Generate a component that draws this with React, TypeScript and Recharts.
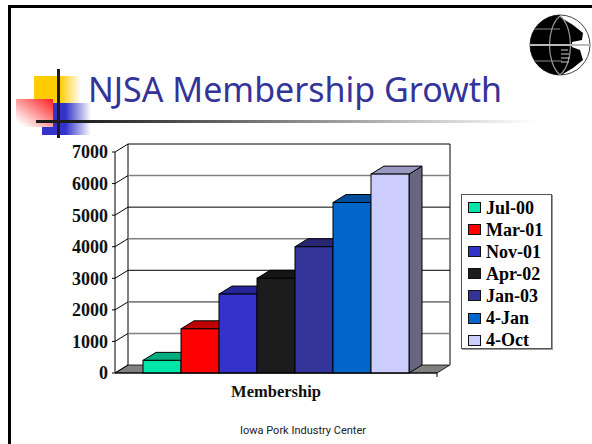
import { BarChart, Bar, XAxis, YAxis, CartesianGrid, Legend } from 'recharts'

const category = 'Membership'
const seriesNames = ['Jul-00', 'Mar-01', 'Nov-01', 'Apr-02', 'Jan-03', '4-Jan', '4-Oct']
const seriesValues = [400, 1400, 2500, 3000, 4000, 5400, 6300]
const seriesColors = ['#00e6a8', '#ff0000', '#3333cc', '#1c1c1c', '#333399', '#0066cc', '#ccccff']
const yTicks = [0, 1000, 2000, 3000, 4000, 5000, 6000, 7000]
const gridColors = ['#000000', '#808080', '#808080', '#000000', '#808080', '#000000', '#808080', '#000000']

const chartData = [
  Object.fromEntries([['name', category], ...seriesNames.map((s, i) => [s, seriesValues[i]])]),
]

const DEPTH_X = 13
const DEPTH_Y = 8
const SERIF = '"Liberation Serif", serif'

function shade(hex: string, k: number) {
  const n = parseInt(hex.slice(1), 16)
  const c = (v: number) => Math.round(v * k)
  return `rgb(${c((n >> 16) & 255)},${c((n >> 8) & 255)},${c(n & 255)})`
}

// box with a top and a side face, the library only hands us the front rect
function Bar3D({ x, y, width, height, fill }: any) {
  const r = x + width
  const b = y + height
  return (
    <g stroke="#000" strokeWidth={1}>
      <path d={`M${r} ${y}L${r + DEPTH_X} ${y - DEPTH_Y}V${b - DEPTH_Y}L${r} ${b}Z`} fill={shade(fill, 0.5)} />
      <path d={`M${x} ${y}L${x + DEPTH_X} ${y - DEPTH_Y}H${r + DEPTH_X}L${r} ${y}Z`} fill={shade(fill, 0.75)} />
      <rect x={x} y={y} width={width} height={height} fill={fill} />
    </g>
  )
}

// grid drawn on the back wall, with the slant across the left wall
function WallLine({ x1, x2, y1, index, y, height }: any) {
  const bx1 = x1 + DEPTH_X
  const bx2 = x2 + DEPTH_X
  const by = y1 - DEPTH_Y
  const isBase = Math.abs(y1 - (y + height)) < 0.5
  return (
    <g fill="none">
      {isBase && (
        <>
          <path d={`M${x1} ${y1}L${bx1} ${by}H${bx2}L${x2} ${y1}Z`} fill="#808080" stroke="#000" strokeWidth={0.8} />
          <line x1={bx1} x2={bx1} y1={y - DEPTH_Y} y2={by} stroke="#000" strokeWidth={1} />
          <line x1={bx2} x2={bx2} y1={y - DEPTH_Y} y2={by} stroke="#808080" strokeWidth={2} />
          <line x1={x2} x2={x2} y1={y1} y2={y1 + 4} stroke="#000" strokeWidth={1} />
        </>
      )}
      {!isBase && <line x1={bx1} x2={bx2} y1={by} y2={by} stroke={gridColors[index]} strokeWidth={gridColors[index] === '#000000' ? 1 : 1.6} />}
      <line x1={x1} x2={bx1} y1={y1} y2={by} stroke="#000" strokeWidth={1} />
    </g>
  )
}

function LegendBox({ payload }: any) {
  return (
    <div style={{ boxSizing: 'border-box', width: 91, height: 155, border: '1px solid #555', boxShadow: '1px 1px 0 #999', background: '#fff', paddingTop: 1.5 }}>
      {(payload ?? []).map((p: any) => (
        <div key={p.value} style={{ display: 'flex', alignItems: 'center', height: 22.1, fontFamily: SERIF, fontWeight: 700, fontSize: 18, color: '#000', lineHeight: 1 }}>
          <span style={{ boxSizing: 'border-box', width: 13, height: 11, marginLeft: 6, marginRight: 5, background: p.color, border: '1px solid #111' }} />
          <span style={{ whiteSpace: 'nowrap' }}>{p.value}</span>
        </div>
      ))}
    </div>
  )
}

function Globe() {
  return (
    <svg width={64} height={64} viewBox="0 0 64 64" style={{ position: 'absolute', left: 528, top: 13 }}>
      <defs>
        <filter id="soft"><feGaussianBlur stdDeviation="0.5" /></filter>
        <clipPath id="disc"><circle cx={32} cy={32} r={30} /></clipPath>
      </defs>
      <g filter="url(#soft)">
        <circle cx={32} cy={32} r={30} fill="#fff" stroke="#444" strokeWidth={1} />
        <g clipPath="url(#disc)">
          <path d="M0 0H32V4L45 12L55 20L54 27L44 29V34L52 37L55 47L45 55L35 61V64H0Z" fill="#000" />
          <path d="M32 3C18 14 18 50 32 62C46 50 46 14 32 3" fill="none" stroke="#999" strokeWidth={1.2} />
          <path d="M2 32H62" stroke="#bbb" strokeWidth={2} />
          <path d="M6 16H32M6 48H34" stroke="#888" strokeWidth={1} />
          <path d="M33 37H40M33 41H41M33 45H42M33 49H41" stroke="#ccc" strokeWidth={1} />
        </g>
      </g>
    </svg>
  )
}

function SlideArt() {
  return (
    <>
      <div style={{ position: 'absolute', left: 8, top: 5, width: 584, height: 3, background: '#000' }} />
      <div style={{ position: 'absolute', left: 8, top: 5, width: 3, height: 439, background: '#000' }} />
      <div style={{ position: 'absolute', left: 34, top: 76, width: 47, height: 28, background: 'linear-gradient(90deg,#ffcc00 0%,#ffcc00 55%,#fff 100%)' }} />
      <div style={{ position: 'absolute', left: 42, top: 103, width: 49, height: 32, background: 'linear-gradient(90deg,#3333cc 0%,#3333cc 48%,#fff 100%)' }} />
      <div style={{ position: 'absolute', left: 16, top: 99, width: 37, height: 28, background: 'linear-gradient(215deg,#ff2020 0%,#fff 90%)' }} />
      <div style={{ position: 'absolute', left: 57, top: 69, width: 3, height: 69, background: '#1c1c1c' }} />
      <div style={{ position: 'absolute', left: 36, top: 120, width: 500, height: 3, background: 'linear-gradient(90deg,#1c1c1c 0%,#1c1c1c 8%,#fff 100%)' }} />
      <div style={{ position: 'absolute', left: 88, top: 66, fontFamily: '"Noto Sans", sans-serif', fontSize: 34, lineHeight: '46px', color: '#333399', whiteSpace: 'nowrap' }}>
        NJSA Membership Growth
      </div>
      <div style={{ position: 'absolute', left: 240, top: 424, fontFamily: 'Roboto, sans-serif', fontSize: 11, lineHeight: '14px', color: '#222', whiteSpace: 'nowrap' }}>
        Iowa Pork Industry Center
      </div>
      <Globe />
    </>
  )
}

export default function App() {
  return (
    <div style={{ position: 'fixed', left: 0, top: 0, width: 592, height: 444, background: '#fff', overflow: 'hidden' }}>
      <SlideArt />
      <div style={{ position: 'absolute', left: 0, top: 0 }}>
        <BarChart
          width={592}
          height={444}
          data={chartData}
          barGap={0}
          barSize={38}
          margin={{ top: 152, right: 155, bottom: 41, left: 55 }}
        >
          <CartesianGrid vertical={false} horizontal={(p: any) => <WallLine {...p} key={p.key} />} />
          <XAxis
            dataKey="name"
            axisLine={{ stroke: '#000' }}
            tickLine={false}
            height={30}
            tick={{ fontSize: 16.5, fontWeight: 700, fontFamily: SERIF, fill: '#111' }}
            tickMargin={6}
          />
          <YAxis
            width={60}
            domain={[0, 7000]}
            ticks={yTicks}
            interval={0}
            axisLine={{ stroke: '#000' }}
            tickLine={{ stroke: '#000' }}
            tickSize={3}
            tickMargin={4}
            tick={{ fontSize: 18, fontWeight: 700, fontFamily: SERIF, fill: '#111' }}
          />
          <Legend
            layout="vertical"
            align="center"
            verticalAlign="middle"
            itemSorter={null}
            content={<LegendBox />}
            wrapperStyle={{ left: 461, top: 194, width: 91, height: 155, right: 'auto', bottom: 'auto' }}
          />
          {seriesNames.map((s, i) => (
            <Bar key={s} dataKey={s} name={s} fill={seriesColors[i]} shape={<Bar3D />} isAnimationActive={false} />
          ))}
        </BarChart>
      </div>
    </div>
  )
}
